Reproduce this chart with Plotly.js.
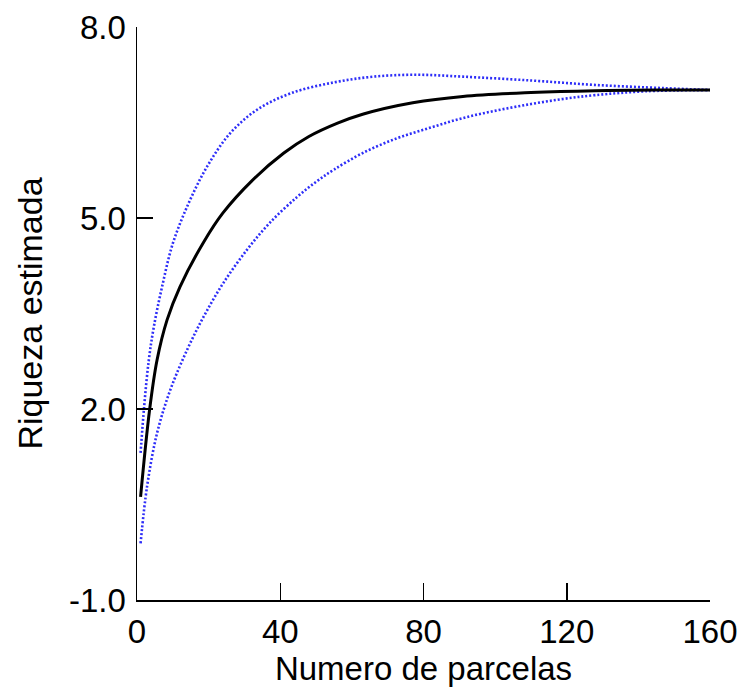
<!DOCTYPE html>
<html>
<head>
<meta charset="utf-8">
<script src="https://cdn.plot.ly/plotly-3.0.1.min.js"></script>
<style>html,body{margin:0;padding:0;background:#fff;}#chart{width:741px;height:691px;}</style>
</head>
<body>
<div id="chart"></div>
<script>
// Mean estimated richness (solid black)
const meanX = [1, 3.5, 5.6, 8.4, 12, 18.6, 24, 32, 41, 48, 56, 63, 77, 91, 110, 128, 145, 160];
const meanY = [0.62, 1.98, 2.77, 3.40, 3.92, 4.62, 5.08, 5.58, 6.02, 6.28, 6.49, 6.63, 6.81, 6.91, 6.97, 7.00, 7.01, 7.01];
// Upper confidence limit (blue dotted)
const upperX = [1, 2, 3.3, 4.7, 7, 10, 14.4, 19.6, 26, 33.5, 43, 55, 66, 78, 91, 110, 128, 147, 160];
const upperY = [1.31, 2.04, 2.77, 3.29, 3.92, 4.60, 5.23, 5.81, 6.33, 6.70, 6.96, 7.13, 7.22, 7.25, 7.22, 7.16, 7.09, 7.04, 7.01];
// Lower confidence limit (blue dotted)
const lowerX = [1, 2.8, 5.6, 9.3, 14, 18.6, 24, 30.7, 37, 44.7, 50.3, 55, 63, 72.5, 82, 91, 100.5, 110, 119, 128, 142, 160];
const lowerY = [-0.11, 0.78, 1.62, 2.30, 2.93, 3.45, 3.97, 4.50, 4.92, 5.33, 5.58, 5.76, 6.02, 6.25, 6.42, 6.57, 6.69, 6.79, 6.87, 6.93, 6.99, 7.01];
// Axis ticks
const xTicks = [0, 40, 80, 120, 160];
const xTickLabels = ["0", "40", "80", "120", "160"];
const yTicks = [-1, 2, 5, 8];
const yTickLabels = ["-1.0", "2.0", "5.0", "8.0"];

const blue = "#2e2ef8";
const traces = [
  {x: upperX, y: upperY, mode: "lines", line: {color: blue, width: 2.6, dash: "2px,2px", shape: "spline", smoothing: 1}, cliponaxis: false, hoverinfo: "skip"},
  {x: lowerX, y: lowerY, mode: "lines", line: {color: blue, width: 2.6, dash: "2px,2px", shape: "spline", smoothing: 1}, cliponaxis: false, hoverinfo: "skip"},
  {x: meanX, y: meanY, mode: "lines", line: {color: "#000000", width: 3, shape: "spline", smoothing: 1}, cliponaxis: false, hoverinfo: "skip"}
];

const font = {family: "Liberation Sans, Arial, sans-serif", color: "#000"};
const layout = {
  width: 741, height: 691,
  margin: {l: 137, r: 31, t: 27, b: 91},
  paper_bgcolor: "#fff", plot_bgcolor: "#fff",
  showlegend: false,
  font: font,
  xaxis: {
    range: [0, 160], tickvals: xTicks, ticktext: xTickLabels,
    showline: true, linecolor: "#000", linewidth: 1.5,
    ticks: "inside", ticklen: 17, tickwidth: 1.5, tickcolor: "#000",
    showgrid: false, zeroline: false,
    tickfont: {family: font.family, size: 33, color: "#000"},
    ticklabelstandoff: 2,
    title: {text: "Numero de parcelas", font: {family: font.family, size: 33, color: "#000"}, standoff: 2},
    automargin: false
  },
  yaxis: {
    range: [-1, 8], tickvals: yTicks, ticktext: yTickLabels,
    showline: true, linecolor: "#000", linewidth: 1.5,
    ticks: "inside", ticklen: 16, tickwidth: 1.5, tickcolor: "#000",
    showgrid: false, zeroline: false,
    tickfont: {family: font.family, size: 33, color: "#000"},
    ticklabelstandoff: 3,
    title: {text: "Riqueza estimada", font: {family: font.family, size: 34, color: "#000"}, standoff: 16},
    automargin: false
  }
};
Plotly.newPlot("chart", traces, layout, {displayModeBar: false, staticPlot: true});
</script>
</body>
</html>
